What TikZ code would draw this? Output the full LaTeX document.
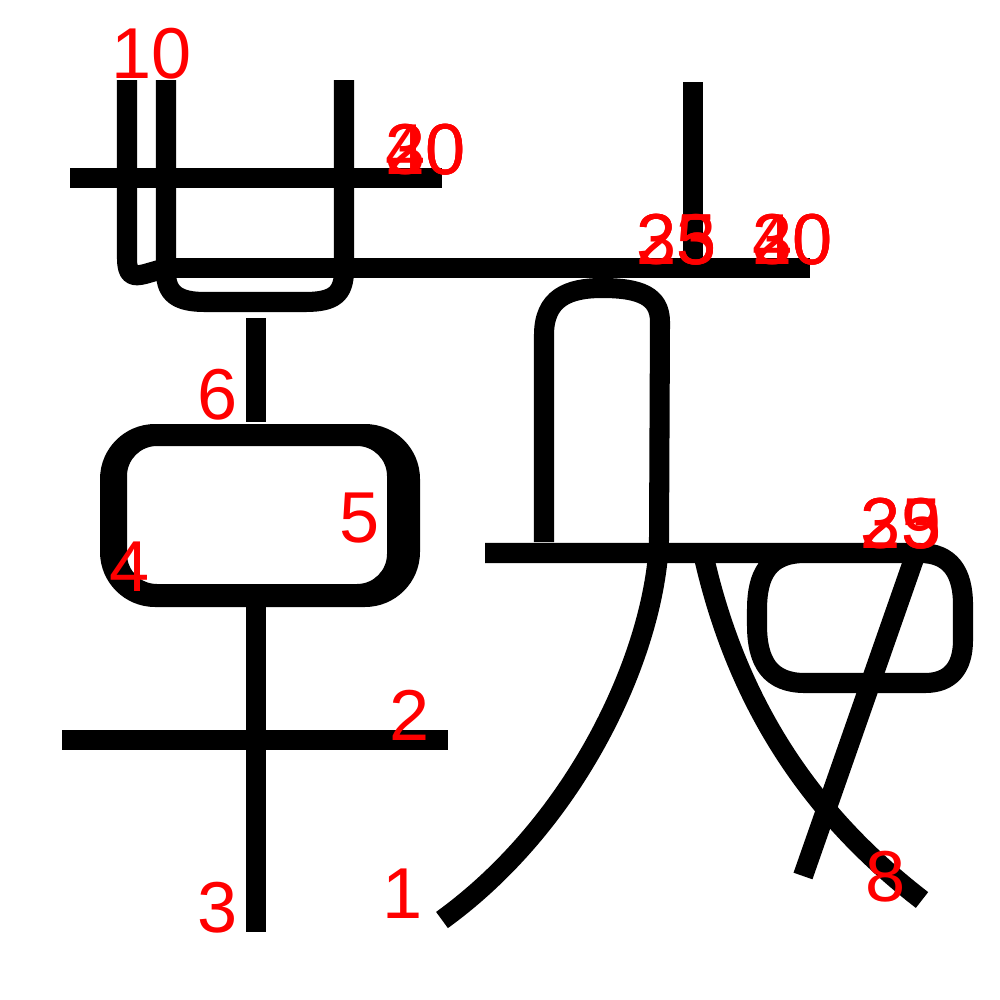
\documentclass[tikz,border=0pt]{standalone}
\usepackage{fontspec}
\setmainfont{Liberation Sans}

\begin{document}
\begin{tikzpicture}[
    x=0.01cm, y=-0.01cm,
    stroke/.style={line width=5.7pt, line join=round},
    lbl/.style={text=red, font=\fontsize{20.5}{24}\selectfont, inner sep=0pt}
]
  \fill[white] (0,0) rectangle (1000,1000);
  \useasboundingbox (0,0) rectangle (1000,1000);

  % left part
  \draw[stroke] (70,178) -- (442,178);
  \draw[stroke] (127,80) -- (127,258) .. controls (127,276) and (133,277) .. (145,274) -- (166,268);
  \draw[stroke] (166,80) -- (166,272) .. controls (166,294) and (178,302) .. (205,302) -- (305,302) .. controls (334,302) and (344,294) .. (344,270) -- (344,80);
  \draw[stroke] (160,268) -- (810,268);
  \draw[stroke] (256,318) -- (256,422);
  \fill[even odd rule] [rounded corners=0.55cm] (100,424) rectangle (420,607)
    [rounded corners=0.3cm] (127,446) rectangle (387,584);
  \draw[stroke] (256,606) -- (256,932);
  \draw[stroke] (62,740) -- (448,740);

  % right part
  \draw[stroke] (693,82) -- (693,262);
  \draw[stroke] (544,542) -- (544,335) .. controls (544,298) and (568,288) .. (602,288) .. controls (640,288) and (660,296) .. (660,322) -- (659,540) .. controls (655,650) and (580,820) .. (442,920);
  \draw[stroke] (485,553) -- (920,553) .. controls (950,553) and (963,572) .. (963,605) -- (963,640) .. controls (963,668) and (950,683) .. (925,683) -- (805,683) .. controls (770,683) and (757,662) .. (757,625) -- (757,610) .. controls (757,575) and (768,553) .. (805,553);
  \draw[stroke] (916,553) -- (803,876);
  \draw[stroke] (703,553) .. controls (740,720) and (825,825) .. (922,900);

  % stroke numbers
  \node[lbl] (n1) at (403,894) {1};
  \node[lbl] (n2) at (410,715) {2};
  \node[lbl] (n3) at (218,908) {3};
  \node[lbl] (n4) at (130,567) {4};
  \node[lbl] (n5) at (360,518) {5};
  \node[lbl] (n6) at (218,395) {6};
  \node[lbl] (n8) at (886,877) {8};
  \node[lbl] (n10) at (152,54) {10};
  \node[lbl] (n20) at (426,150) {20};
  \node[lbl] (n30) at (426,150) {30};
  \node[lbl] (n40) at (426,150) {40};
  \node[lbl] (n23) at (677,240) {23};
  \node[lbl] (n25) at (677,240) {25};
  \node[lbl] (n35) at (677,240) {35};
  \node[lbl] (n22) at (793,240) {20};
  \node[lbl] (n32) at (793,240) {30};
  \node[lbl] (n42) at (793,240) {40};
  \node[lbl] (n24) at (901,524) {23};
  \node[lbl] (n29) at (901,524) {29};
  \node[lbl] (n39) at (901,524) {35};
\end{tikzpicture}
\end{document}
